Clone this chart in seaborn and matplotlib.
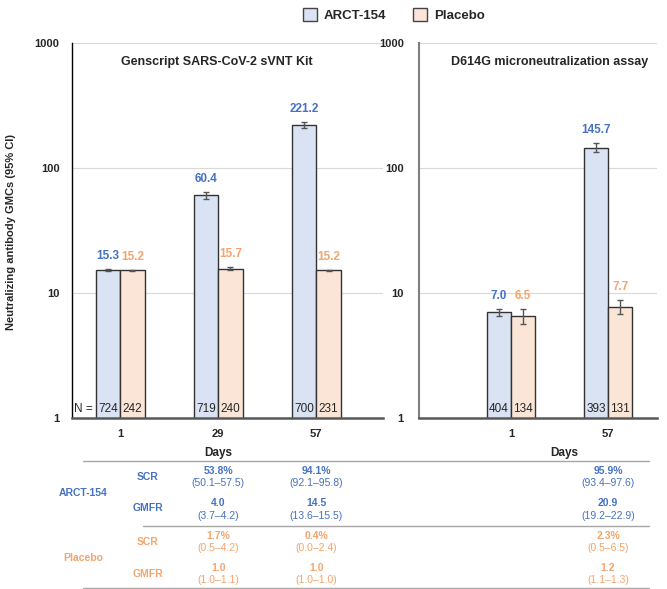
import matplotlib
matplotlib.use("Agg")
from matplotlib import pyplot as plt
from matplotlib.patches import Patch
from matplotlib.lines import Line2D
from matplotlib.ticker import NullLocator
import matplotlib.transforms as mtransforms
import seaborn as sns
import pandas as pd

groups = ["ARCT-154", "Placebo"]

# Genscript SARS-CoV-2 sVNT Kit
sv_days = ["1", "29", "57"]
sv_arct = [15.3, 60.4, 221.2]
sv_arct_lo = [15.1, 56.4, 209.0]
sv_arct_hi = [15.5, 64.7, 234.0]
sv_plac = [15.2, 15.7, 15.2]
sv_plac_lo = [15.0, 15.2, 15.1]
sv_plac_hi = [15.4, 16.2, 15.3]
sv_n_arct = [724, 719, 700]
sv_n_plac = [242, 240, 231]

# D614G microneutralization assay
mn_days = ["1", "57"]
mn_arct = [7.0, 145.7]
mn_arct_lo = [6.5, 134.5]
mn_arct_hi = [7.5, 157.8]
mn_plac = [6.5, 7.7]
mn_plac_lo = [5.7, 6.8]
mn_plac_hi = [7.4, 8.8]
mn_n_arct = [404, 393]
mn_n_plac = [134, 131]

# table under the charts: columns = (panel, day)
tbl_cols = [(0, "29"), (0, "57"), (1, "57")]
arct_scr = [53.8, 94.1, 95.9]
arct_scr_ci = [(50.1, 57.5), (92.1, 95.8), (93.4, 97.6)]
arct_gmfr = [4.0, 14.5, 20.9]
arct_gmfr_ci = [(3.7, 4.2), (13.6, 15.5), (19.2, 22.9)]
plac_scr = [1.7, 0.4, 2.3]
plac_scr_ci = [(0.5, 4.2), (0.0, 2.4), (0.5, 6.5)]
plac_gmfr = [1.0, 1.0, 1.2]
plac_gmfr_ci = [(1.0, 1.1), (1.0, 1.0), (1.1, 1.3)]

fill_a, fill_p = "#DAE3F3", "#FBE5D6"
txt_a, txt_p = "#4472C4", "#F4A46C"

sns.set_style("white")
plt.rcParams["font.family"] = ["Liberation Sans", "DejaVu Sans"]

W, H = 667, 589
fig = plt.figure(figsize=(W / 100, H / 100), dpi=100)
ax1 = fig.add_axes([72 / W, 1 - 418 / H, 311 / W, 375 / H])
ax2 = fig.add_axes([419 / W, 1 - 418 / H, 238 / W, 375 / H])


def panel(ax, days, arct, plac, a_lo, a_hi, p_lo, p_hi, n_a, n_p, title, title_x):
    df = pd.DataFrame({
        "Day": days + days,
        "Group": [groups[0]] * len(days) + [groups[1]] * len(days),
        "GMC": arct + plac,
    })
    ax.set_yscale("log")
    sns.barplot(data=df, x="Day", y="GMC", hue="Group", order=days, hue_order=groups,
                palette=[fill_a, fill_p], saturation=1, width=0.5, gap=0,
                edgecolor="#333333", linewidth=1, errorbar=None, legend=False,
                ax=ax, zorder=2)
    series = [(arct, a_lo, a_hi, n_a, txt_a), (plac, p_lo, p_hi, n_p, txt_p)]
    for cont, (vals, lo, hi, ns, col) in zip(ax.containers, series):
        xs = [b.get_x() + b.get_width() / 2 for b in cont]
        ax.errorbar(xs, vals, yerr=[[v - l for v, l in zip(vals, lo)], [h - v for v, h in zip(vals, hi)]],
                    fmt="none", ecolor="#555555", elinewidth=1, capsize=2.5, zorder=3)
        for x, v, h, n in zip(xs, vals, hi, ns):
            ax.annotate(f"{v:.1f}", (x, h), xytext=(0, 5), textcoords="offset points",
                        ha="center", va="bottom", color=col, fontweight="bold", fontsize=8.5)
            ax.text(x, 1.05, str(n), ha="center", va="bottom", fontsize=8.5, color="#262626", zorder=4)
    ax.set_ylim(1, 1000)
    ax.set_yticks([1, 10, 100, 1000], labels=["1", "10", "100", "1000"])
    ax.yaxis.set_minor_locator(NullLocator())
    ax.yaxis.grid(True, which="major", color="#d9d9d9", lw=0.8)
    ax.set_axisbelow(True)
    ax.tick_params(length=0, labelsize=8)
    for lab in ax.get_xticklabels() + ax.get_yticklabels():
        lab.set_fontweight("bold")
    ax.set_ylabel("")
    ax.set_xlabel("Days", fontsize=8.5, fontweight="bold")
    for s in ["top", "right"]:
        ax.spines[s].set_visible(False)
    ax.spines["bottom"].set_color("#595959")
    ax.spines["bottom"].set_linewidth(1.8)
    ax.text(title_x, 0.949, title, transform=ax.transAxes, ha="center", va="center",
            fontsize=9, fontweight="bold")


panel(ax1, sv_days, sv_arct, sv_plac, sv_arct_lo, sv_arct_hi, sv_plac_lo, sv_plac_hi,
      sv_n_arct, sv_n_plac, "Genscript SARS-CoV-2 sVNT Kit", 0.466)
panel(ax2, mn_days, mn_arct, mn_plac, mn_arct_lo, mn_arct_hi, mn_plac_lo, mn_plac_hi,
      mn_n_arct, mn_n_plac, "D614G microneutralization assay", 0.55)

ax1.set_xlim(-0.49, 2.68)
ax2.set_xlim(-0.95, 1.505)
ax1.spines["left"].set_color("#000000")
ax1.spines["left"].set_linewidth(1.0)
ax2.spines["left"].set_color("#7f7f7f")
ax2.spines["left"].set_linewidth(1.5)
ax1.tick_params(axis="y", pad=9)
ax2.tick_params(axis="y", pad=11)
ax1.tick_params(axis="x", pad=8)
ax2.tick_params(axis="x", pad=8)
ax1.xaxis.set_label_coords(0.469, -0.077)
ax2.xaxis.set_label_coords(0.609, -0.077)

first = ax1.containers[0][0]
ax1.annotate("N =", (first.get_x(), 1.05), xytext=(-2, 0), textcoords="offset points",
             ha="right", va="bottom", fontsize=8.5, color="#262626")

fig.text(11 / W, 1 - 232 / H, "Neutralizing antibody GMCs (95% CI)", rotation=90,
         ha="center", va="center", fontsize=8, fontweight="bold")

fig.legend(handles=[Patch(facecolor=fill_a, edgecolor="#444444", label=groups[0]),
                    Patch(facecolor=fill_p, edgecolor="#444444", label=groups[1])],
           loc="upper center", bbox_to_anchor=(0.59, 1.0), ncol=2, frameon=False,
           prop={"weight": "bold", "size": 9.5}, handlelength=1.1, handleheight=1.1,
           handletextpad=0.5, columnspacing=2.0, borderaxespad=0.2)

# ---- table ----
axes = [ax1, ax2]


def fy(px):
    return 1 - px / H


rows = [
    (arct_scr, arct_scr_ci, "%", txt_a, 471, 483, "SCR", 477),
    (arct_gmfr, arct_gmfr_ci, "", txt_a, 503, 516, "GMFR", 508),
    (plac_scr, plac_scr_ci, "%", txt_p, 536, 548, "SCR", 542),
    (plac_gmfr, plac_gmfr_ci, "", txt_p, 568, 580, "GMFR", 574),
]
for vals, cis, suf, col, yv, yc, lab, yl in rows:
    for (pi, day), v, (lo, hi) in zip(tbl_cols, vals, cis):
        ax = axes[pi]
        days = sv_days if pi == 0 else mn_days
        tr = mtransforms.blended_transform_factory(ax.transData, fig.transFigure)
        x = days.index(day)
        fig.text(x, fy(yv), f"{v:.1f}{suf}", transform=tr, ha="center", va="center",
                 fontsize=7.5, fontweight="bold", color=col)
        fig.text(x, fy(yc), f"({lo:.1f}–{hi:.1f})", transform=tr, ha="center", va="center",
                 fontsize=7.5, color=col)
    fig.text(148 / W, fy(yl), lab, ha="center", va="center", fontsize=7.5,
             fontweight="bold", color=col)

fig.text(83 / W, fy(493), groups[0], ha="center", va="center", fontsize=7.5,
         fontweight="bold", color=txt_a)
fig.text(83 / W, fy(558), groups[1], ha="center", va="center", fontsize=7.5,
         fontweight="bold", color=txt_p)

for x0, y in [(83, 461), (143, 526), (83, 587.5)]:
    fig.add_artist(Line2D([x0 / W, 649 / W], [fy(y), fy(y)], color="#a6a6a6", lw=1))

fig.savefig("out.png", dpi=100)
